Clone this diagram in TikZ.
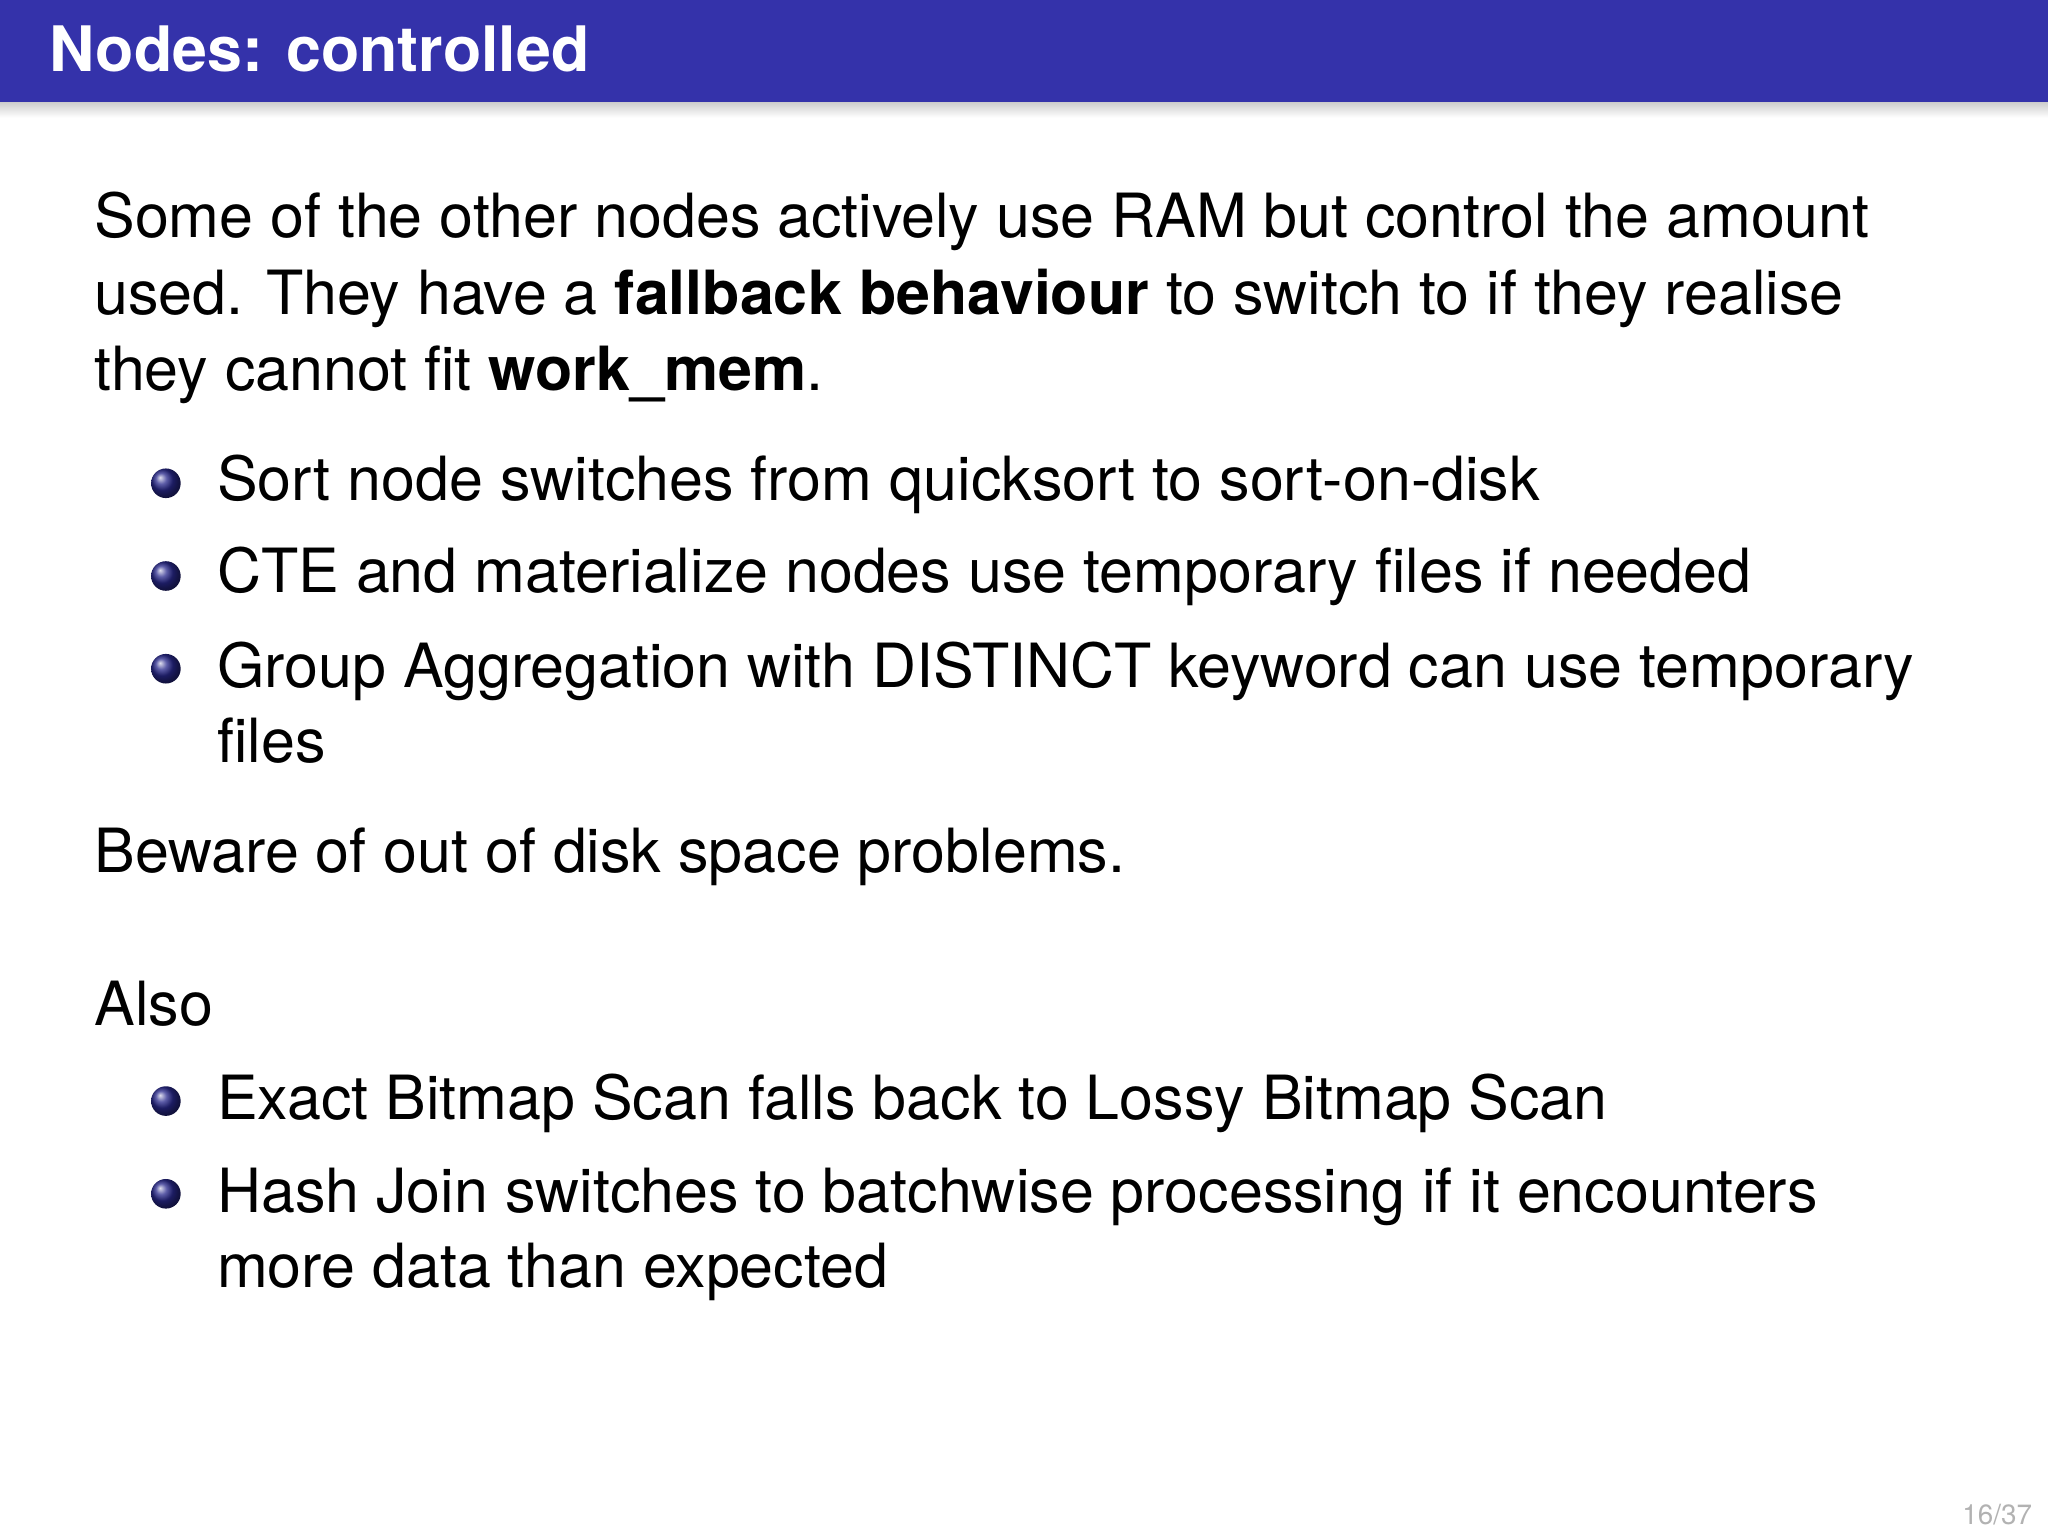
\documentclass[tikz,border=0pt]{standalone}
\usepackage{fontspec}
\setmainfont{TeX Gyre Heros}
\usetikzlibrary{shadings}
\definecolor{barblue}{RGB}{52,50,170}
\definecolor{ballblue}{RGB}{40,40,140}
\tikzset{
  body/.style={anchor=base west,inner sep=0pt,font=\fontsize{35}{44}\selectfont},
  bul/.style={circle,inner sep=0pt,minimum size=17pt,ball color=ballblue},
}
\begin{document}
\begin{tikzpicture}[x=0.75pt,y=0.75pt,yscale=-1,xscale=1]
\useasboundingbox (0,0) rectangle (1568,1176);
\fill[white] (0,0) rectangle (1568,1176);
% title bar
\shade[top color=gray!40,bottom color=white] (0,78) rectangle (1568,90);
\fill[barblue] (0,0) rectangle (1568,78);
\node[anchor=base west,inner sep=0pt,text=white,font=\fontsize{36}{40}\selectfont\bfseries] (title) at (38,55) {Nodes: controlled};
% intro
\node[body] (intro1) at (72,182) {Some of the other nodes actively use RAM but control the amount};
\node[body] (intro2) at (72,241) {used. They have a \textbf{fallback behaviour} to switch to if they realise};
\node[body] (intro3) at (72,299) {they cannot fit \textbf{work\_mem}.};
% first list
\node[bul] (b1) at (127,370) {};
\node[body] (item1) at (166,383) {Sort node switches from quicksort to sort-on-disk};
\node[bul] (b2) at (127,441) {};
\node[body] (item2) at (166,454) {CTE and materialize nodes use temporary files if needed};
\node[bul] (b3) at (127,512) {};
\node[body] (item3) at (166,526) {Group Aggregation with DISTINCT keyword can use temporary};
\node[body] (item3b) at (166,584) {files};
\node[body] (beware) at (72,668) {Beware of out of disk space problems.};
\node[body] (also) at (72,785) {Also};
% second list
\node[bul] (b4) at (127,843) {};
\node[body] (item4) at (166,857) {Exact Bitmap Scan falls back to Lossy Bitmap Scan};
\node[bul] (b5) at (127,914) {};
\node[body] (item5) at (166,928) {Hash Join switches to batchwise processing if it encounters};
\node[body] (item5b) at (166,986) {more data than expected};
% page number
\node[anchor=base east,inner sep=0pt,text=gray!60,font=\fontsize{16}{18}\selectfont] (page) at (1556,1167) {16/37};
\end{tikzpicture}
\end{document}
